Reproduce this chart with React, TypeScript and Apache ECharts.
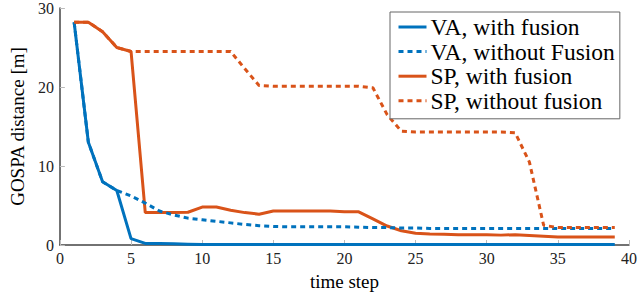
import React, { useEffect, useRef } from "react";
import * as echarts from "echarts";

const timeSteps = [
  1, 2, 3, 4, 5, 6, 7, 8, 9, 10, 11, 12, 13, 14, 15, 16, 17, 18, 19, 20,
  21, 22, 23, 24, 25, 26, 27, 28, 29, 30, 31, 32, 33, 34, 35, 36, 37, 38, 39,
];

const vaWithFusion = [
  28.2, 13, 8, 6.9, 0.8, 0.2, 0.2, 0.15, 0.1, 0.05, 0.05, 0.05, 0.05, 0.05, 0.05,
  0.05, 0.05, 0.05, 0.05, 0.05, 0.05, 0.05, 0.05, 0.05, 0.05, 0.05, 0.05, 0.05,
  0.05, 0.05, 0.05, 0.05, 0.05, 0.05, 0.05, 0.05, 0.05, 0.05, 0.05,
];

const vaWithoutFusion = [
  28.2, 13, 8, 6.9, 6.2, 5.3, 4.3, 3.8, 3.4, 3.2, 3.0, 2.8, 2.6, 2.45, 2.35,
  2.3, 2.3, 2.3, 2.3, 2.3, 2.25, 2.2, 2.2, 2.15, 2.15, 2.1, 2.1, 2.1, 2.1, 2.1,
  2.1, 2.1, 2.1, 2.1, 2.1, 2.1, 2.1, 2.1, 2.1,
];

const spWithFusion = [
  28.2, 28.2, 27, 25, 24.5, 4.1, 4.1, 4.1, 4.15, 4.8, 4.8, 4.4, 4.1, 3.9, 4.3,
  4.3, 4.3, 4.3, 4.3, 4.2, 4.2, 3.3, 2.4, 1.8, 1.5, 1.4, 1.35, 1.3, 1.3, 1.3,
  1.25, 1.3, 1.2, 1.1, 1.0, 1.0, 1.0, 1.0, 1.0,
];

const spWithoutFusion = [
  28.2, 28.2, 27, 25, 24.5, 24.5, 24.5, 24.5, 24.5, 24.5, 24.5, 24.5, 22.3,
  20.2, 20.1, 20.1, 20.1, 20.1, 20.1, 20.1, 20.1, 19.9, 16.5, 14.4, 14.3, 14.3,
  14.3, 14.3, 14.3, 14.3, 14.3, 14.2, 10.5, 2.5, 2.2, 2.2, 2.2, 2.2, 2.2,
];

const seriesNames = [
  "VA, with fusion",
  "VA, without Fusion",
  "SP, with fusion",
  "SP, without fusion",
];

const BLUE = "#0072BD";
const ORANGE = "#D95319";
const FONT = "'Liberation Serif', 'Times New Roman', serif";

function pairs(values: number[]) {
  return timeSteps.map((t, i) => [t, values[i]]);
}

export default function App() {
  const ref = useRef<HTMLDivElement>(null);

  useEffect(() => {
    if (!ref.current) return;
    const chart = echarts.init(ref.current, undefined, { renderer: "svg" });
    const dash = [5, 4];
    const mk = (name: string, data: number[], color: string, dotted: boolean) => ({
      name,
      type: "line",
      data: pairs(data),
      symbol: "none",
      showSymbol: false,
      lineStyle: {
        color,
        width: 3,
        type: dotted ? dash : "solid",
        cap: "butt",
      },
      itemStyle: { color },
      z: dotted ? 3 : 2,
    });

    chart.setOption({
      animation: false,
      backgroundColor: "#ffffff",
      grid: { left: 54, right: 6, top: 6, bottom: 50 },
      xAxis: {
        type: "value",
        min: 0,
        max: 40,
        interval: 5,
        name: "time step",
        nameLocation: "middle",
        nameGap: 27,
        nameTextStyle: { fontFamily: FONT, fontSize: 19, color: "#000" },
        axisLine: { show: true, lineStyle: { color: "#444", width: 1.5 } },
        axisTick: { show: true, inside: true, length: 5, lineStyle: { color: "#bbb" } },
        axisLabel: { fontFamily: FONT, fontSize: 16, color: "#222", margin: 5 },
        splitLine: { show: false },
      },
      yAxis: {
        type: "value",
        min: 0,
        max: 30,
        interval: 10,
        name: "GOSPA distance [m]",
        nameLocation: "middle",
        nameGap: 27,
        nameTextStyle: { fontFamily: FONT, fontSize: 19, color: "#000" },
        axisLine: { show: true, lineStyle: { color: "#444", width: 1.5 } },
        axisTick: { show: true, inside: true, length: 5, lineStyle: { color: "#bbb" } },
        axisLabel: { fontFamily: FONT, fontSize: 16, color: "#222", margin: 6 },
        splitLine: { show: false },
      },
      legend: {
        data: seriesNames,
        orient: "vertical",
        left: 390,
        top: 12,
        padding: [3, 5, 6, 7],
        itemWidth: 28,
        itemHeight: 12,
        itemGap: 0.6,
        backgroundColor: "#fff",
        borderColor: "#666",
        borderWidth: 1,
        itemStyle: { opacity: 0 },
        lineStyle: { width: 3 },
        textStyle: { fontFamily: FONT, fontSize: 23.5, color: "#000", lineHeight: 22, padding: [0, 0, 0, -1] },
      },
      series: [
        mk(seriesNames[0], vaWithFusion, BLUE, false),
        mk(seriesNames[1], vaWithoutFusion, BLUE, true),
        mk(seriesNames[2], spWithFusion, ORANGE, false),
        mk(seriesNames[3], spWithoutFusion, ORANGE, true),
      ],
    });
    return () => chart.dispose();
  }, []);

  return <div ref={ref} style={{ width: 640, height: 296, position: "absolute", left: 0, top: 0 }} />;
}
